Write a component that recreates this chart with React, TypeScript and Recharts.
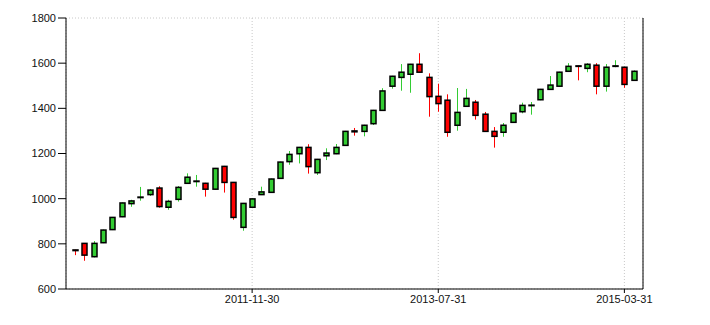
import { ComposedChart, Bar, XAxis, YAxis, CartesianGrid } from 'recharts';

// monthly candles, 2010-04 .. 2015-04
const opens = [
  773, 802, 743, 805, 863, 920, 978, 1005, 1018, 1047, 962, 997,
  1068, 1076, 1068, 1042, 1143, 1072, 873, 962, 1018, 1028, 1090, 1164,
  1199, 1227, 1115, 1190, 1199, 1236, 1300, 1298, 1332, 1391, 1498, 1537,
  1551, 1595, 1537, 1453, 1436, 1325, 1409, 1427, 1374, 1298, 1294, 1338,
  1385, 1412, 1438, 1484, 1498, 1564, 1588, 1577, 1591, 1498, 1586, 1582, 1524,
];
const highs = [
  774, 803, 812, 863, 919, 983, 995, 1052, 1043, 1055, 995, 1056,
  1112, 1105, 1070, 1136, 1145, 1074, 981, 1001, 1053, 1089, 1164, 1211,
  1229, 1241, 1176, 1223, 1242, 1300, 1313, 1327, 1393, 1489, 1544, 1596,
  1597, 1644, 1555, 1509, 1462, 1490, 1486, 1437, 1384, 1317, 1335, 1380,
  1425, 1428, 1486, 1543, 1562, 1600, 1589, 1600, 1600, 1596, 1613, 1584, 1568,
];
const lows = [
  750, 725, 740, 803, 861, 918, 964, 991, 1012, 960, 951, 987,
  1066, 1053, 1009, 1040, 1027, 907, 858, 958, 1016, 1026, 1088, 1150,
  1156, 1111, 1105, 1171, 1197, 1234, 1279, 1276, 1326, 1389, 1487, 1478,
  1469, 1558, 1363, 1385, 1274, 1301, 1407, 1350, 1296, 1226, 1274, 1336,
  1378, 1372, 1436, 1482, 1496, 1562, 1524, 1560, 1462, 1474, 1582, 1491, 1522,
];
const closes = [
  770, 750, 802, 861, 917, 981, 990, 1007, 1038, 965, 988, 1050,
  1095, 1078, 1042, 1134, 1072, 917, 979, 999, 1030, 1087, 1162, 1196,
  1227, 1142, 1174, 1202, 1227, 1298, 1296, 1325, 1391, 1477, 1542, 1560,
  1595, 1560, 1452, 1421, 1294, 1382, 1444, 1369, 1298, 1276, 1325, 1378,
  1413, 1414, 1484, 1503, 1560, 1586, 1586, 1595, 1498, 1582, 1588, 1506, 1564,
];

const tickIdx = [19, 39, 59];
const tickLabels = ['2011-11-30', '2013-07-31', '2015-03-31'];
const yTicks = [600, 800, 1000, 1200, 1400, 1600, 1800];

const data = opens.map((open, i) => ({
  i,
  open,
  high: highs[i],
  low: lows[i],
  close: closes[i],
  range: [lows[i], highs[i]],
}));

const UP = '#33cc33';
const DOWN = '#ff0000';

const Candle = (props: any) => {
  const { x, y, width, height, payload } = props;
  const { open, close, high, low } = payload;
  const k = height / (high - low);
  const yOf = (v: number) => y + (high - v) * k;
  const cx = Math.round(x + width / 2) + 0.5;
  const top = yOf(Math.max(open, close));
  const bot = yOf(Math.min(open, close));
  const color = close >= open ? UP : DOWN;
  return (
    <g>
      <line x1={cx} x2={cx} y1={y} y2={y + height} stroke={color} strokeWidth={1} />
      <rect x={cx - 2.5} y={top} width={5} height={Math.max(bot - top, 0.5)} fill={color} stroke="#000" strokeWidth={1.5} />
    </g>
  );
};

const tickStyle = { fontSize: 11, fill: '#111', fontFamily: '"Liberation Sans", Arial, sans-serif' };

export default function App() {
  return (
    <ComposedChart width={694} height={305} data={data} margin={{ top: 10, right: 0, bottom: 0, left: 0 }}>
      <CartesianGrid stroke="#c8c8c8" strokeDasharray="1 2" />
      <XAxis
        dataKey="i"
        type="number"
        domain={[-1, 61]}
        ticks={tickIdx}
        tickFormatter={(v: number) => tickLabels[tickIdx.indexOf(v)] ?? ''}
        height={24}
        tickSize={4}
        tick={tickStyle}
        stroke="#000"
        interval={0}
      />
      <YAxis
        yAxisId="left"
        domain={[600, 1800]}
        ticks={yTicks}
        width={58}
        tickSize={8}
        tickMargin={2}
        tick={tickStyle}
        stroke="#000"
        interval={0}
      />
      <YAxis
        yAxisId="right"
        orientation="right"
        domain={[600, 1800]}
        ticks={yTicks}
        width={59}
        tickSize={7}
        tickMargin={2}
        tick={tickStyle}
        stroke="#000"
        interval={0}
      />
      <Bar yAxisId="left" dataKey="range" barSize={7} shape={Candle} isAnimationActive={false} />
    </ComposedChart>
  );
}
